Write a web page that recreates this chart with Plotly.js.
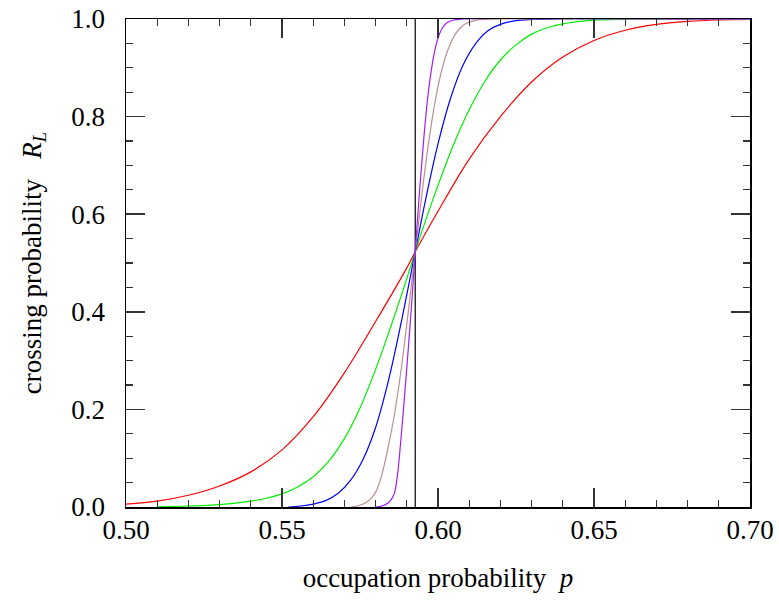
<!DOCTYPE html>
<html>
<head>
<meta charset="utf-8">
<script src="https://cdn.plot.ly/plotly-3.0.1.min.js"></script>
<style>html,body{margin:0;padding:0;background:#fff;}#chart{width:779px;height:606px;}</style>
</head>
<body>
<div id="chart"></div>
<script>
// critical point marker
const pc = 0.5927;

// series (increasing system size L): red, green, blue, brown, purple
const redP = [0.50,0.51,0.52,0.53,0.54,0.55,0.56,0.57,0.58,0.59,0.5927,0.60,0.61,0.62,0.63,0.64,0.65,0.66,0.67,0.68,0.69,0.70];
const redR = [0.006,0.012,0.024,0.043,0.072,0.117,0.185,0.275,0.380,0.490,0.523,0.606,0.713,0.80,0.871,0.922,0.956,0.977,0.989,0.995,0.998,0.999];

const greenP = [0.51,0.52,0.53,0.54,0.545,0.55,0.555,0.56,0.565,0.57,0.575,0.58,0.585,0.59,0.5927,0.595,0.60,0.605,0.61,0.615,0.62,0.625,0.63,0.635,0.64,0.65,0.66,0.67,0.70];
const greenR = [0.0005,0.002,0.005,0.012,0.018,0.027,0.041,0.062,0.094,0.140,0.203,0.282,0.372,0.468,0.523,0.568,0.659,0.743,0.814,0.872,0.916,0.947,0.969,0.982,0.990,0.9977,0.9996,1,1];

const blueP = [0.552,0.556,0.56,0.564,0.568,0.572,0.576,0.58,0.584,0.588,0.5927,0.596,0.60,0.604,0.608,0.612,0.616,0.62,0.625,0.63,0.64,0.70];
const blueR = [0.0,0.002,0.006,0.013,0.028,0.055,0.098,0.163,0.256,0.372,0.523,0.629,0.744,0.837,0.905,0.949,0.976,0.989,0.9966,0.999,1,1];

const brownP = [0.572,0.574,0.576,0.578,0.580,0.582,0.584,0.586,0.588,0.590,0.5927,0.595,0.597,0.599,0.601,0.603,0.605,0.607,0.609,0.612,0.615,0.62,0.70];
const brownR = [0.0,0.002,0.006,0.014,0.030,0.066,0.122,0.188,0.273,0.374,0.523,0.649,0.747,0.828,0.89,0.934,0.963,0.981,0.9906,0.9973,0.9993,1,1];

const purpleP = [0.580,0.582,0.584,0.585,0.586,0.587,0.588,0.589,0.590,0.591,0.592,0.5927,0.594,0.595,0.596,0.597,0.598,0.599,0.600,0.601,0.602,0.603,0.605,0.608,0.70];
const purpleR = [0.0,0.002,0.008,0.015,0.028,0.065,0.13,0.205,0.285,0.368,0.458,0.523,0.64,0.72,0.795,0.855,0.901,0.936,0.961,0.977,0.987,0.993,0.998,1,1];

const vlineP = [pc, pc];
const vlineR = [0, 1];

const xTickVals = [0.50,0.55,0.60,0.65,0.70];
const xTickText = ['0.50','0.55','0.60','0.65','0.70'];
const yTickVals = [0.0,0.2,0.4,0.6,0.8,1.0];
const yTickText = ['0.0','0.2','0.4','0.6','0.8','1.0'];

const lw = 1.2;
function curve(x, y, color) {
  return {x: x, y: y, type: 'scatter', mode: 'lines', line: {color: color, width: lw, shape: 'spline', smoothing: 1}, hoverinfo: 'skip', showlegend: false};
}

const traces = [
  {x: vlineP, y: vlineR, type: 'scatter', mode: 'lines', line: {color: '#000', width: 1.2}, showlegend: false, hoverinfo: 'skip'},
  curve(redP, redR, '#ff0000'),
  curve(greenP, greenR, '#00ee00'),
  curve(blueP, blueR, '#0000ff'),
  curve(brownP, brownR, '#bc8f8f'),
  curve(purpleP, purpleR, '#a020f0')
];

const font = {family: 'Liberation Serif, Times New Roman, serif', size: 27, color: '#000'};

const layout = {
  width: 779, height: 606,
  margin: {l: 126, r: 29, t: 19, b: 99},
  paper_bgcolor: '#fff', plot_bgcolor: '#fff',
  font: font,
  showlegend: false,
  xaxis: {
    range: [0.50, 0.70],
    tickvals: xTickVals, ticktext: xTickText,
    ticks: 'inside', ticklen: 19, tickwidth: 1.5, tickcolor: '#333',
    minor: {dtick: 0.01, ticks: 'inside', ticklen: 7, tickwidth: 1.3, tickcolor: '#333', showgrid: false},
    showline: true, linecolor: '#000', linewidth: 1.5, mirror: 'ticks',
    showgrid: false, zeroline: false,
    tickfont: font, ticklabelstandoff: -2,
    title: {text: 'occupation probability  <i>p</i>', font: font, standoff: 24}
  },
  yaxis: {
    range: [0, 1],
    tickvals: yTickVals, ticktext: yTickText,
    ticks: 'inside', ticklen: 19, tickwidth: 1.5, tickcolor: '#333',
    minor: {dtick: 0.05, ticks: 'inside', ticklen: 7, tickwidth: 1.3, tickcolor: '#333', showgrid: false},
    showline: true, linecolor: '#000', linewidth: 1.5, mirror: 'ticks',
    showgrid: false, zeroline: false,
    tickfont: font, ticklabelstandoff: 14,
    title: {text: 'crossing probability&nbsp;&nbsp;&nbsp;<i>R</i><sub><i>L</i></sub>', font: font, standoff: 22}
  }
};

Plotly.newPlot('chart', traces, layout, {displayModeBar: false, staticPlot: true});
</script>
</body>
</html>
